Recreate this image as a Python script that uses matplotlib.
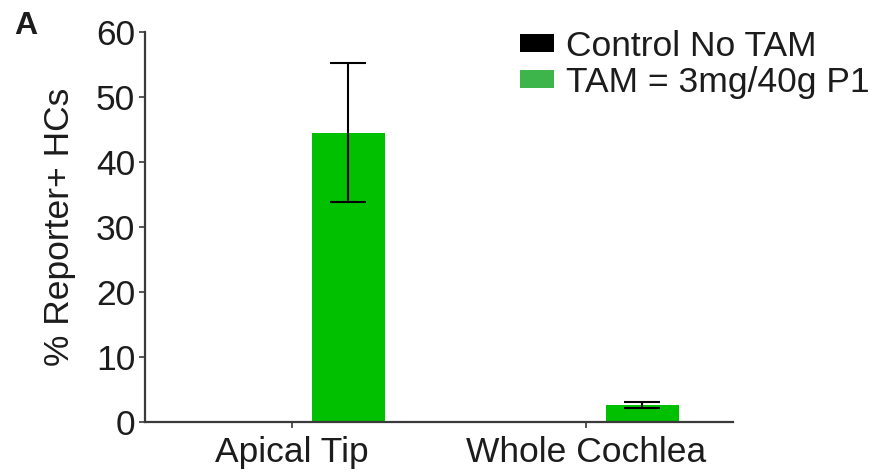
import matplotlib
matplotlib.use("Agg")
import matplotlib.pyplot as plt
from matplotlib.patches import Patch
import numpy as np

categories = ["Apical Tip", "Whole Cochlea"]
series_names = ["Control No TAM", "TAM = 3mg/40g P1"]
control_vals = [0.0, 0.0]
tam_vals = [44.5, 2.6]
tam_err = [10.7, 0.5]
yticks = [0, 10, 20, 30, 40, 50, 60]
ylabel = "% Reporter+ HCs"

plt.rcParams['font.family'] = ['Liberation Sans', 'DejaVu Sans']
FS = 25.5
TXT = "#1c1c1c"
SPINE = "#3a3a3a"

fig = plt.figure(figsize=(8.81, 4.74), dpi=100)
ax = fig.add_axes([145/881, 1-422/474, (733-145)/881, (422-32)/474])

x = np.arange(len(categories))
off = 0.192
w = 0.247
ax.bar(x - off, control_vals, w, color="black")
ax.bar(x + off, tam_vals, w, color="#00c000", yerr=tam_err,
       error_kw=dict(ecolor="black", elinewidth=1.5, capsize=13, capthick=1.5))

ax.set_xlim(-0.5, 1.5)
ax.set_ylim(0, 60)
ax.set_yticks(yticks)
ax.set_yticklabels([str(t) for t in yticks])
ax.set_xticks(x)
ax.set_xticklabels(categories)
ax.tick_params(axis="both", labelsize=FS, colors=SPINE, labelcolor=TXT,
               length=4, width=1.2, direction="out", pad=3)
ax.tick_params(axis="x", pad=6)
for s in ["top", "right"]:
    ax.spines[s].set_visible(False)
for s in ["left", "bottom"]:
    ax.spines[s].set_color(SPINE)
    ax.spines[s].set_linewidth(1.6)
ax.set_ylabel(ylabel, fontsize=FS, color=TXT, labelpad=14)

handles = [Patch(facecolor="black", edgecolor="none"),
           Patch(facecolor="#3db54a", edgecolor="none")]
leg = ax.legend(handles, series_names, loc="upper left",
                bbox_to_anchor=(520/881, 1-30/474), bbox_transform=fig.transFigure,
                frameon=False, fontsize=FS, handlelength=0.95, handleheight=0.4,
                handletextpad=0.35, labelspacing=0.08, borderpad=0, borderaxespad=0)
for t in leg.get_texts():
    t.set_color(TXT)

fig.text(26/881, 1-26/474, "A", fontsize=23, fontweight="bold", color=TXT,
         ha="center", va="center")

fig.savefig("out.png", dpi=100)
